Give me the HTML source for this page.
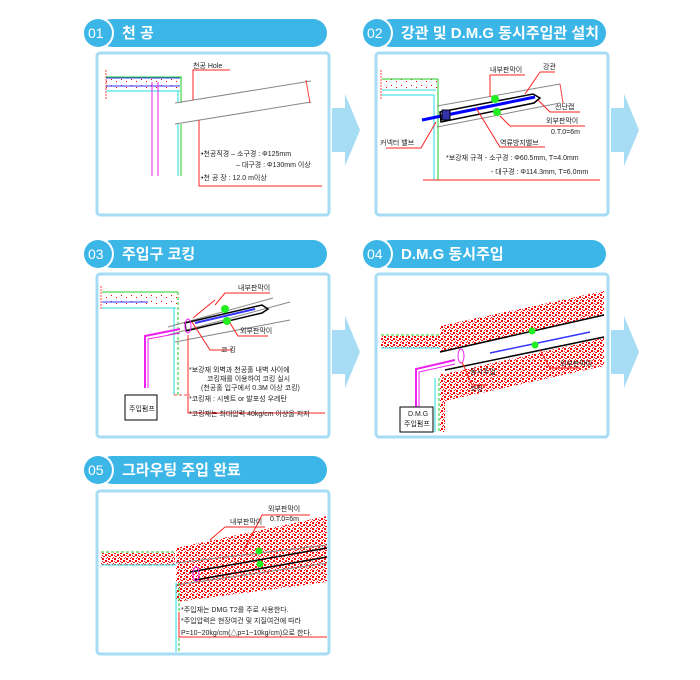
<!DOCTYPE html>
<html><head><meta charset="utf-8"><style>
html,body{margin:0;padding:0;background:#fff;width:700px;height:680px;overflow:hidden}
svg{display:block}
.h{font-family:"Liberation Sans","Noto Sans CJK KR",sans-serif;font-weight:bold;fill:#fff;font-size:15px}
.n{font-family:"Liberation Sans",sans-serif;fill:#fff;font-size:14px}
.t{font-family:"Liberation Sans","Noto Sans CJK KR",sans-serif;font-size:7px;fill:#222}
</style></head><body>
<svg width="700" height="680" viewBox="0 0 700 680" xmlns="http://www.w3.org/2000/svg">
<defs>
<pattern id="sp" width="6" height="6" patternUnits="userSpaceOnUse">
<rect x="0" y="0" width="2" height="2" fill="#f00"/><rect x="3" y="2" width="2" height="2" fill="#f00"/><rect x="1" y="4" width="2" height="1" fill="#f00"/><rect x="5" y="5" width="1" height="1" fill="#f00"/><rect x="4" y="0" width="1" height="1" fill="#f00"/><rect x="0" y="3" width="1" height="1" fill="#e22"/>
</pattern>
<pattern id="sp2" width="10" height="6" patternUnits="userSpaceOnUse">
<rect x="1" y="1" width="1" height="1" fill="#f00"/><rect x="6" y="3" width="1" height="1" fill="#f00"/>
</pattern>
<g id="arr"><path d="M0 14 H13 V0 L28 36 L13 72 V58 H0 Z" fill="#a6dcf4"/></g>
</defs>

<g>
<rect x="98" y="19" width="229" height="28" rx="14" fill="#3cb6e7"/>
<circle cx="98" cy="33" r="16" fill="#fff"/><circle cx="98" cy="33" r="14" fill="#3cb6e7"/>
<text class="n" x="88" y="38">01</text><text class="h" x="122" y="38">천 공</text>

<rect x="377" y="19" width="229" height="28" rx="14" fill="#3cb6e7"/>
<circle cx="377" cy="33" r="16" fill="#fff"/><circle cx="377" cy="33" r="14" fill="#3cb6e7"/>
<text class="n" x="367" y="38">02</text><text class="h" x="401" y="38">강관 및 D.M.G 동시주입관 설치</text>

<rect x="98" y="240" width="229" height="28" rx="14" fill="#3cb6e7"/>
<circle cx="98" cy="254" r="16" fill="#fff"/><circle cx="98" cy="254" r="14" fill="#3cb6e7"/>
<text class="n" x="88" y="259">03</text><text class="h" x="122" y="259">주입구 코킹</text>

<rect x="377" y="240" width="229" height="28" rx="14" fill="#3cb6e7"/>
<circle cx="377" cy="254" r="16" fill="#fff"/><circle cx="377" cy="254" r="14" fill="#3cb6e7"/>
<text class="n" x="367" y="259">04</text><text class="h" x="401" y="259">D.M.G 동시주입</text>

<rect x="98" y="456" width="229" height="28" rx="14" fill="#3cb6e7"/>
<circle cx="98" cy="470" r="16" fill="#fff"/><circle cx="98" cy="470" r="14" fill="#3cb6e7"/>
<text class="n" x="88" y="475">05</text><text class="h" x="122" y="475">그라우팅 주입 완료</text>
</g>

<g fill="#fff" stroke="#a6dcf4" stroke-width="3">
<rect x="97" y="53" width="232" height="162" rx="3"/>
<rect x="376" y="53" width="232" height="162" rx="3"/>
<rect x="97" y="274" width="232" height="163" rx="3"/>
<rect x="376" y="274" width="232" height="163" rx="3"/>
<rect x="97" y="491" width="232" height="163" rx="3"/>
</g>
<use href="#arr" x="332" y="94"/><use href="#arr" x="611" y="94"/>
<use href="#arr" x="332" y="316"/><use href="#arr" x="611" y="316"/>

<!-- Panel 1 -->
<g stroke-width="1" fill="none">
<line x1="106" y1="70" x2="106" y2="100" stroke="#f44" stroke-dasharray="2 1"/>
<rect x="106" y="78" width="75" height="13" fill="url(#sp2)" stroke="none"/>
<line x1="106" y1="77" x2="182" y2="77" stroke="#2c2"/>
<line x1="106" y1="78" x2="180" y2="78" stroke="#33f"/>
<line x1="106" y1="86" x2="180" y2="86" stroke="#33f"/>
<line x1="106" y1="91" x2="180" y2="91" stroke="#2dd"/>
<line x1="152" y1="82" x2="152" y2="176" stroke="#e2e"/><line x1="158" y1="82" x2="158" y2="176" stroke="#e2e"/>
<line x1="181" y1="77" x2="181" y2="103" stroke="#2c2"/><line x1="181" y1="124" x2="181" y2="176" stroke="#2c2"/>
<line x1="178" y1="91" x2="178" y2="103" stroke="#2dd"/><line x1="178" y1="124" x2="178" y2="176" stroke="#2dd"/>
<line x1="175" y1="103" x2="311" y2="81" stroke="#888"/>
<line x1="175" y1="124" x2="311" y2="102" stroke="#888"/>
<line x1="306" y1="80" x2="310" y2="103" stroke="#f44"/>
<polyline points="193,100 193,70 230,70" stroke="#f22"/>
<polyline points="199,120 199,186 322,186" stroke="#f22"/>
</g>
<text class="t" x="193" y="68">천공 Hole</text>
<text class="t" x="201" y="156">•천공직경 – 소구경 : Φ125mm</text>
<text class="t" x="236" y="167">– 대구경 : Φ130mm 이상</text>
<text class="t" x="201" y="180">•천 공 장 : 12.0 m이상</text>

<!-- Panel 2 -->
<g fill="none" stroke-width="1">
<line x1="381" y1="70" x2="381" y2="100" stroke="#f44" stroke-dasharray="2 1"/>
<rect x="382" y="79" width="56" height="12" fill="url(#sp2)" stroke="none"/>
<line x1="382" y1="79" x2="438" y2="79" stroke="#2c2"/>
<line x1="382" y1="90" x2="436" y2="90" stroke="#2dd"/>
<line x1="382" y1="95" x2="434" y2="95" stroke="#2dd"/>
<line x1="438" y1="79" x2="438" y2="180" stroke="#2c2"/>
<line x1="434" y1="95" x2="434" y2="180" stroke="#2dd"/>
<line x1="437" y1="106" x2="560" y2="84" stroke="#888"/>
<line x1="437" y1="127" x2="560" y2="103" stroke="#888"/>
<line x1="560" y1="84" x2="563" y2="103" stroke="#f44"/>
<line x1="422" y1="120" x2="535" y2="97" stroke="#00f" stroke-width="3"/>
<polygon points="440,112 533,94 540,98 534,103 441,122" stroke="#000" stroke-width="1.5"/>
<rect x="442" y="110" width="8" height="10" stroke="#000" fill="#33a"/>
<circle cx="495" cy="99" r="4" fill="#2e2" stroke="none"/><circle cx="497" cy="112" r="4" fill="#2e2" stroke="none"/>
<line x1="423" y1="180" x2="600" y2="180" stroke="#f22"/>
<polyline points="386,148 421,148 436,122" stroke="#f22"/>
<polyline points="490,75 490,97" stroke="#f22"/><line x1="490" y1="75" x2="525" y2="75" stroke="#f22"/>
<polyline points="540,72 525,94" stroke="#f22"/><line x1="540" y1="72" x2="555" y2="72" stroke="#f22"/>
<polyline points="538,100 550,112 580,112" stroke="#f22"/>
<polyline points="500,116 510,126 585,126" stroke="#f22"/>
<polyline points="476,108 500,147 545,147" stroke="#f22"/>
</g>
<text class="t" x="490" y="72">내부판막이</text>
<text class="t" x="543" y="69">강관</text>
<text class="t" x="555" y="109">선단캡</text>
<text class="t" x="546" y="123">외부판막이</text>
<text class="t" x="551" y="134">0.T.0=6m</text>
<text class="t" x="380" y="145">커넥터 밸브</text>
<text class="t" x="500" y="145">역류방지밸브</text>
<text class="t" x="446" y="160">*보강재 규격 - 소구경 : Φ60.5mm, T=4.0mm</text>
<text class="t" x="491" y="174">- 대구경 : Φ114.3mm, T=6.0mm</text>

<!-- Panel 3 -->
<g fill="none" stroke-width="1">
<line x1="101" y1="286" x2="101" y2="310" stroke="#f44" stroke-dasharray="2 1"/>
<rect x="102" y="292" width="75" height="14" fill="url(#sp2)" stroke="none"/>
<line x1="102" y1="292" x2="178" y2="292" stroke="#2c2"/>
<line x1="102" y1="302" x2="148" y2="302" stroke="#33f"/>
<line x1="102" y1="308" x2="176" y2="308" stroke="#2dd"/>
<line x1="178" y1="292" x2="178" y2="395" stroke="#2c2" stroke-dasharray="3 2"/>
<line x1="174" y1="308" x2="174" y2="395" stroke="#2dd"/>
<line x1="168" y1="327" x2="273" y2="298" stroke="#888"/>
<line x1="168" y1="335" x2="290" y2="302" stroke="#888"/>
<line x1="175" y1="342" x2="290" y2="320" stroke="#888"/>
<polygon points="185,323 262,305 268,309 262,313 186,331" stroke="#000" stroke-width="1.5"/>
<line x1="195" y1="323" x2="255" y2="309" stroke="#33f" stroke-width="2"/>
<ellipse cx="188" cy="326" rx="3" ry="7" stroke="#e2e"/>
<circle cx="225" cy="309" r="4" fill="#2e2" stroke="none"/><circle cx="227" cy="321" r="4" fill="#2e2" stroke="none"/>
<polyline points="180,329 145,336 145,388" stroke="#e2e" stroke-width="2"/>
<polyline points="180,333 148,339 148,388" stroke="#e2e"/>
<line x1="174" y1="395" x2="190" y2="395" stroke="#f44" stroke-dasharray="3 2"/>
<polyline points="192,322 210,350 232,350" stroke="#f22"/>
<polyline points="215,305 225,293 270,293" stroke="#f22"/>
<polyline points="193,318 215,300" stroke="#f22"/>
<polyline points="230,323 238,336 268,336" stroke="#f22"/>
<polyline points="188,335 188,413 325,413" stroke="#f22"/>
</g>
<rect x="125" y="395" width="32" height="25" fill="#fff" stroke="#000"/>
<text class="t" x="129" y="411">주입펌프</text>
<text class="t" x="238" y="290">내부판막이</text>
<text class="t" x="240" y="333">외부판막이</text>
<text class="t" x="221" y="352">코 킹</text>
<text class="t" x="189" y="372">*보강재 외벽과 천공홀 내벽 사이에</text>
<text class="t" x="207" y="381">코킹재를 이용하여 코킹 실시</text>
<text class="t" x="201" y="390">(천공홀 입구에서 0.3M 이상 코킹)</text>
<text class="t" x="189" y="401">*코킹재 : 시멘트 or 발포성 우레탄</text>
<text class="t" x="189" y="416">*코킹재는 최대압력 40kg/cm 이상을 지지</text>

<!-- Panel 4 -->
<g fill="none" stroke-width="1">
<rect x="381" y="336" width="60" height="12" fill="url(#sp)" stroke="none"/>
<line x1="381" y1="335" x2="440" y2="335" stroke="#2c2" stroke-dasharray="3 2"/>
<line x1="381" y1="348" x2="440" y2="348" stroke="#2dd"/>
<polygon points="440,326 604,291 604,315 440,352" fill="url(#sp)" stroke="none"/>
<polygon points="440,375 604,338 604,366 440,402" fill="url(#sp)" stroke="none"/>
<polygon points="440,372 445,376 445,432 440,432" fill="url(#sp)" stroke="none"/>
<line x1="440" y1="352" x2="604" y2="315" stroke="#000" stroke-width="1.5"/>
<line x1="445" y1="370" x2="604" y2="337" stroke="#000" stroke-width="1.5"/>
<line x1="490" y1="353" x2="590" y2="332" stroke="#33f" stroke-width="1.5"/>
<ellipse cx="461" cy="356" rx="3" ry="7" stroke="#e2e"/>
<circle cx="532" cy="331" r="3.5" fill="#2e2" stroke="none"/><circle cx="535" cy="345" r="3.5" fill="#2e2" stroke="none"/>
<line x1="439" y1="378" x2="439" y2="432" stroke="#2c2" stroke-dasharray="3 2"/>
<line x1="435" y1="378" x2="435" y2="432" stroke="#2dd"/>
<polyline points="455,360 416,369 416,410" stroke="#e2e" stroke-width="2"/>
<polyline points="455,364 419,372 419,410" stroke="#e2e"/>
<polyline points="462,362 472,385 488,385" stroke="#f22"/>
<polyline points="540,350 550,368 580,368" stroke="#f22"/>
</g>
<rect x="400" y="407" width="33" height="25" fill="#fff" stroke="#000"/>
<text class="t" x="408" y="416">D.M.G</text>
<text class="t" x="404" y="426">주입펌프</text>
<text class="t" x="560" y="366">외부판막이</text>
<text class="t" x="470" y="374">동시주입</text>
<text class="t" x="470" y="391">코킹</text>

<!-- Panel 5 -->
<g fill="none" stroke-width="1">
<rect x="101" y="553" width="74" height="12" fill="url(#sp)" stroke="none"/>
<line x1="101" y1="552" x2="176" y2="552" stroke="#2c2" stroke-dasharray="3 2"/>
<line x1="101" y1="565" x2="176" y2="565" stroke="#2dd"/>
<polygon points="176,548 327,516 327,582 176,602" fill="url(#sp)" stroke="none"/>
<line x1="176" y1="563" x2="327" y2="545" stroke="#888"/>
<line x1="190" y1="572" x2="327" y2="548" stroke="#000" stroke-width="1.5"/>
<line x1="195" y1="580" x2="327" y2="557" stroke="#000" stroke-width="1.5"/>
<line x1="176" y1="585" x2="327" y2="563" stroke="#888"/>
<ellipse cx="196" cy="574" rx="3" ry="7" stroke="#e2e"/>
<circle cx="259" cy="551" r="3.5" fill="#2e2" stroke="none"/><circle cx="260" cy="564" r="3.5" fill="#2e2" stroke="none"/>
<line x1="176" y1="583" x2="176" y2="652" stroke="#2dd"/>
<line x1="179" y1="583" x2="179" y2="652" stroke="#2c2" stroke-dasharray="3 2"/>
<polyline points="210,540 225,527 265,527" stroke="#f22"/>
<polyline points="243,552 262,515 310,515" stroke="#f22"/>
<polyline points="179,612 179,637 327,637" stroke="#f22"/>
</g>
<text class="t" x="230" y="524">내부판막이</text>
<text class="t" x="268" y="511">외부판막이</text>
<text class="t" x="270" y="521">0.T.0=6m</text>
<text class="t" x="181" y="612">*주입재는 DMG T2를 주로 사용한다.</text>
<text class="t" x="181" y="623">*주입압력은 현장여건 및 지질여건에 따라</text>
<text class="t" x="181" y="635">P=10~20kg/cm(△p=1~10kg/cm)으로 한다.</text>
</svg>
</body></html>
